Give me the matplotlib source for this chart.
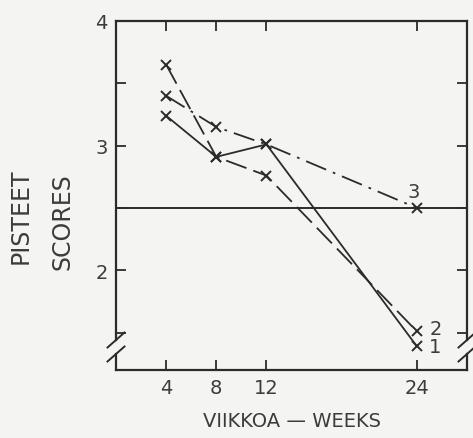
import matplotlib
matplotlib.use("Agg")
import matplotlib.pyplot as plt
from matplotlib.lines import Line2D

plt.rcParams['font.family'] = ['DejaVu Sans']

# Follow-up weeks and mean scores for the three groups
weeks = [4, 8, 12, 24]
group1 = [3.24, 2.91, 3.01, 1.39]
group2 = [3.65, 2.91, 2.76, 1.51]
group3 = [3.40, 3.15, 3.01, 2.50]
reference_level = 2.5

x_ticks = [4, 8, 12, 24]
y_ticks = [1.5, 2, 2.5, 3, 3.5, 4]
y_ticklabels = ["", "2", "", "3", "", "4"]

ink = "#2b2b2b"
text_ink = "#3c3c3c"
paper = "#f4f4f2"

fig = plt.figure(figsize=(4.73, 4.39), dpi=100, facecolor=paper)
ax = fig.add_axes([116 / 473, 68 / 439, 351 / 473, 349 / 439], facecolor=paper)

ax.set_xlim(0, 28)
ax.set_ylim(1.2, 4.0)

line_kw = dict(color=ink, lw=1.3, marker="x", ms=6.5, mew=1.4)
ax.plot(weeks, group1, linestyle="-", **line_kw)
ax.plot(weeks, group2, linestyle=(0, (12, 4)), **line_kw)
ax.plot(weeks, group3, linestyle=(0, (12, 4, 1.5, 4)), **line_kw)

ax.axhline(reference_level, color=ink, lw=1.4, zorder=1)

# group numbers beside the final measurements
txt = dict(color=text_ink, fontsize=14)
ax.annotate("1", (weeks[-1], group1[-1]), xytext=(9, 0), textcoords="offset points",
            ha="left", va="center", **txt)
ax.annotate("2", (weeks[-1], group2[-1]), xytext=(9, 2), textcoords="offset points",
            ha="left", va="center", **txt)
ax.annotate("3", (weeks[-1], group3[-1]), xytext=(-2, 5), textcoords="offset points",
            ha="center", va="bottom", **txt)

ax.set_xticks(x_ticks)
ax.set_xticklabels([str(v) for v in x_ticks])
ax.set_yticks(y_ticks)
ax.set_yticklabels(y_ticklabels)
ax.tick_params(direction="in", length=7, width=1.3, color=ink, labelcolor=text_ink,
               labelsize=14, top=True, right=True, pad=6)

for side in ("top", "bottom"):
    ax.spines[side].set_color(ink)
    ax.spines[side].set_linewidth(1.6)
for side in ("left", "right"):
    ax.spines[side].set_visible(False)

# side spines with a break near the bottom
w_ax, h_ax = 351, 349
gap_hi, gap_lo = 30 / h_ax, 16 / h_ax
dx, dy = 8.5 / w_ax, 7.5 / h_ax
for x0 in (0, 1):
    for ys in ((gap_hi, 1), (0, gap_lo)):
        ax.add_line(Line2D([x0, x0], ys, transform=ax.transAxes, color=ink,
                           lw=1.6, clip_on=False))
    for yc in (gap_hi, gap_lo):
        ax.add_line(Line2D([x0 - dx, x0 + dx], [yc - dy, yc + dy],
                           transform=ax.transAxes, color=ink, lw=1.4, clip_on=False))

ax.set_xlabel("VIIKKOA — WEEKS", color=text_ink, fontsize=14, labelpad=10)

fig.text(21 / 473, 1 - 216 / 439, "PISTEET", rotation=90, ha="center", va="center",
         color=text_ink, fontsize=17)
fig.text(62 / 473, 1 - 222 / 439, "SCORES", rotation=90, ha="center", va="center",
         color=text_ink, fontsize=17)

fig.savefig("out.png", dpi=100, facecolor=paper)
